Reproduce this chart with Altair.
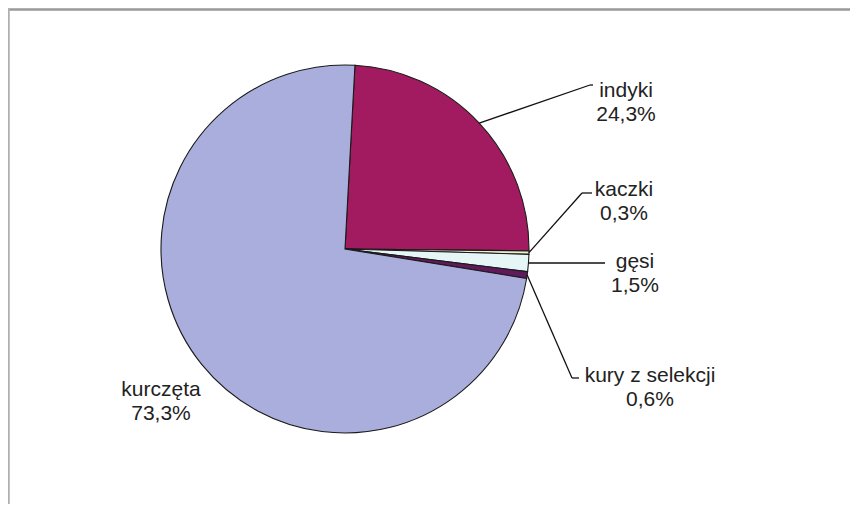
import math
import altair as alt
import pandas as pd

# ---- data ----
categories = ["indyki", "kaczki", "gęsi", "kury z selekcji", "kurczęta"]
shares = [24.3, 0.3, 1.5, 0.6, 73.3]
colors = ["#A21A60", "#EDEDCF", "#E6F5F5", "#5E1A5A", "#AAAEDC"]

# ---- layout (plot-area pixels) ----
CX, CY, R = 337, 241, 184
START = math.radians(3.1)
# elbow and end of leader lines (None = no leader)
leader_elbow = [(582, 77), (574, 185), (597, 255), (564, 370), None]
leader_end = [(585, 77), (584, 185), (597, 255), (571, 370), None]
label_pos = [(618, 83), (616, 182), (627, 254), (642, 368), (153, 382)]
LINE_GAP = 24

rows = []
for i, c in enumerate(categories):
    el = leader_elbow[i]
    en = leader_end[i]
    rows.append(dict(
        cat=c, val=shares[i], idx=i,
        has_leader=el is not None,
        elbx=el[0] if el else 0, elby=el[1] if el else 0,
        endx=en[0] if en else 0, endy=en[1] if en else 0,
        lx=label_pos[i][0], ly=label_pos[i][1], ly2=label_pos[i][1] + LINE_GAP,
    ))
df = pd.DataFrame(rows)

base = alt.Chart(df)

pie = base.mark_arc(radius=R, stroke="#1a1a1a", strokeWidth=1.1).encode(
    theta=alt.Theta("val:Q", stack=True,
                    scale=alt.Scale(range=[START, START + 2 * math.pi], nice=False)),
    order=alt.Order("idx:Q"),
    color=alt.Color("cat:N", scale=alt.Scale(domain=categories, range=colors), legend=None),
    x=alt.value(CX),
    y=alt.value(CY),
)

geo = base.transform_window(
    cum="sum(val)", sort=[alt.SortField("idx")], frame=[None, 0]
).transform_calculate(
    ang=f"{START} + (datum.cum - datum.val/2) / 100 * 2 * PI",
).transform_calculate(
    ex=f"{CX} + {R} * sin(datum.ang)",
    ey=f"{CY} - {R} * cos(datum.ang)",
    pct="replace(format(datum.val, '.1f'), '.', ',') + '%'",
)

lead1 = geo.transform_filter("datum.has_leader").mark_rule(color="#111111", strokeWidth=1.3).encode(
    x=alt.X("ex:Q", scale=None, axis=None),
    y=alt.Y("ey:Q", scale=None, axis=None),
    x2="elbx:Q",
    y2="elby:Q",
)
lead2 = geo.transform_filter("datum.has_leader").mark_rule(color="#111111", strokeWidth=1.3).encode(
    x=alt.X("elbx:Q", scale=None, axis=None),
    y=alt.Y("elby:Q", scale=None, axis=None),
    x2="endx:Q",
    y2="endy:Q",
)

txt_style = dict(font="Liberation Sans", fontSize=21, color="#222222", align="center", baseline="middle")
lab1 = geo.mark_text(**txt_style).encode(
    x=alt.X("lx:Q", scale=None, axis=None),
    y=alt.Y("ly:Q", scale=None, axis=None),
    text="cat:N",
)
lab2 = geo.mark_text(**txt_style).encode(
    x=alt.X("lx:Q", scale=None, axis=None),
    y=alt.Y("ly2:Q", scale=None, axis=None),
    text="pct:N",
)

frame_top = alt.Chart(df).mark_rule(color="#9a9a9a", strokeWidth=1.5).encode(
    x=alt.value(0), x2=alt.value(842), y=alt.value(1.5)
)
frame_left = alt.Chart(df).mark_rule(color="#b0b0b0", strokeWidth=1.5).encode(
    x=alt.value(0.5), y=alt.value(1), y2=alt.value(496)
)

chart = alt.layer(frame_top, frame_left, pie, lead1, lead2, lab1, lab2).properties(
    width=842, height=496, autosize="none", padding=0, background="white"
).configure_view(stroke=None)

chart.save("out.html", embed_options={"renderer": "svg", "actions": False})
